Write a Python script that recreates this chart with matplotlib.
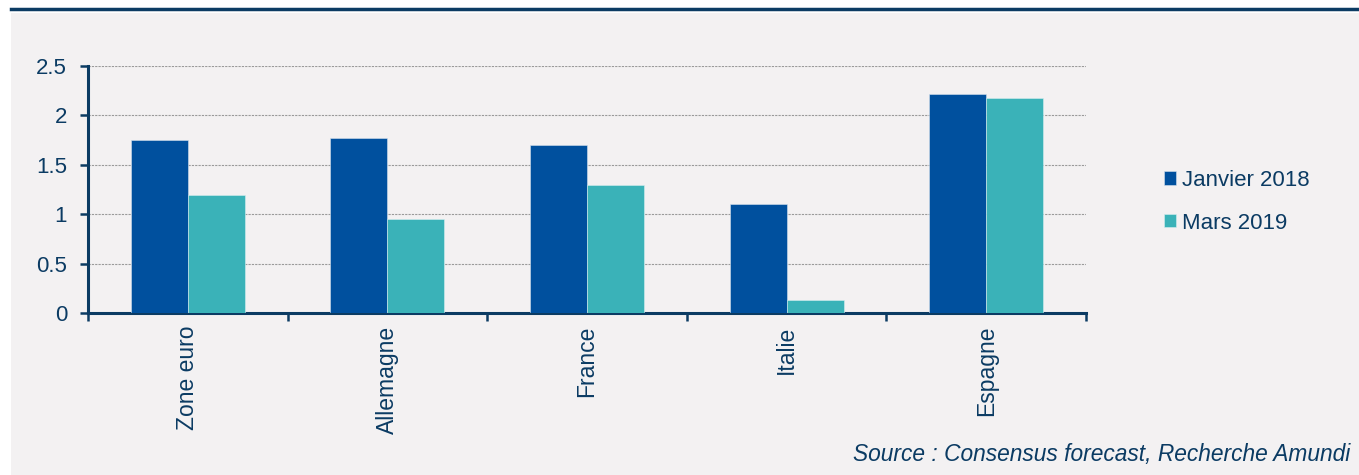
import numpy as np
import matplotlib
matplotlib.use("Agg")
from matplotlib import pyplot as plt
from matplotlib.patches import Rectangle
from matplotlib.lines import Line2D

countries = ["Zone euro", "Allemagne", "France", "Italie", "Espagne"]
janvier_2018 = [1.75, 1.77, 1.70, 1.10, 2.22]
mars_2019 = [1.19, 0.95, 1.30, 0.13, 2.18]
series_names = ["Janvier 2018", "Mars 2019"]
y_ticks = [0, 0.5, 1, 1.5, 2, 2.5]
y_tick_labels = ["0", "0.5", "1", "1.5", "2", "2.5"]

navy = "#0B3B63"
blue = "#00509E"
teal = "#3AB2B8"
bg = "#F3F1F2"

plt.rcParams["font.family"] = ["Liberation Sans", "DejaVu Sans"]

fig = plt.figure(figsize=(13.59, 4.75), dpi=100)
fig.patches.append(Rectangle((11 / 1359, 0), 1, 1 - 13 / 475, transform=fig.transFigure,
                             facecolor=bg, edgecolor="none", zorder=-10))
fig.lines.append(Line2D([11 / 1359, 1], [1 - 9 / 475, 1 - 9 / 475], transform=fig.transFigure,
                        color=navy, linewidth=2.5))

ax = fig.add_axes([88 / 1359, 1 - 313 / 475, (1086 - 88) / 1359, (313 - 66) / 475])
ax.set_facecolor("none")

x = np.arange(len(countries))
w = 0.286
ax.bar(x - w / 2, janvier_2018, w, color=blue, label=series_names[0], zorder=3,
       edgecolor="#d6e2ee", linewidth=0.4)
ax.bar(x + w / 2, mars_2019, w, color=teal, label=series_names[1], zorder=3,
       edgecolor="#d6eef0", linewidth=0.4)

ax.set_xlim(-0.5, len(countries) - 0.5)
ax.set_ylim(0, 2.5)
ax.set_yticks(y_ticks)
ax.set_yticklabels(y_tick_labels)
ax.yaxis.grid(True, linestyle=(0, (2, 1)), color="#9a9a9a", linewidth=0.8, zorder=0)

ax.set_xticks(np.arange(len(countries) + 1) - 0.5)
ax.set_xticklabels([])
ax.set_xticks(x, minor=True)
ax.set_xticklabels(countries, minor=True, rotation=90, va="top", ha="center",
                   fontsize=16.5, color=navy)
ax.tick_params(axis="x", which="minor", length=0, pad=9)
ax.tick_params(axis="x", which="major", length=6, width=1.8, color=navy, direction="out")
ax.tick_params(axis="y", length=6, width=1.8, color=navy, labelsize=16, labelcolor=navy, pad=9)

for side in ["top", "right"]:
    ax.spines[side].set_visible(False)
for side in ["left", "bottom"]:
    ax.spines[side].set_color(navy)
    ax.spines[side].set_linewidth(2.2)

leg = fig.legend(loc="upper left", bbox_to_anchor=(1164 / 1359, 1 - 170 / 475),
                 frameon=False, fontsize=16, handlelength=0.55, handleheight=0.55,
                 handletextpad=0.27, labelspacing=0.97, borderpad=0, borderaxespad=0)
for t in leg.get_texts():
    t.set_color(navy)

fig.text(1350 / 1359, 1 - 455 / 475, "Source : Consensus forecast, Recherche Amundi",
         ha="right", va="center", style="italic", fontsize=16.4, color=navy)

fig.savefig("out.png", dpi=100, facecolor="white")
